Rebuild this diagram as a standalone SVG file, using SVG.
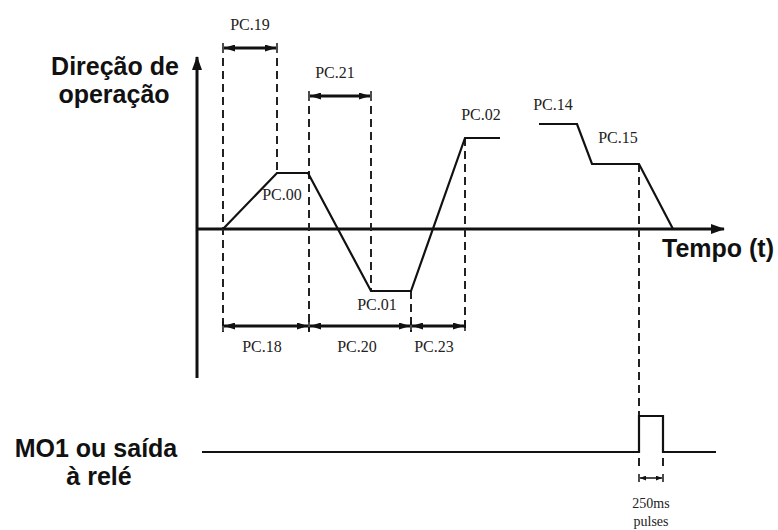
<svg xmlns="http://www.w3.org/2000/svg" width="778" height="530" viewBox="0 0 778 530">
<style>
.bg{fill:#fff}
.axis{stroke:#111;stroke-width:3;fill:none}
.wave{stroke:#111;stroke-width:2.2;fill:none;stroke-linejoin:miter}
.dash{stroke:#222;stroke-width:2;stroke-dasharray:8,5;fill:none}
.dim{stroke:#111;stroke-width:3;fill:none}
.tick{stroke:#111;stroke-width:1.5}
.lbl{font-family:"Liberation Serif","Times New Roman",serif;font-size:16px;fill:#222;text-anchor:middle}
.small{font-family:"Liberation Serif","Times New Roman",serif;font-size:14px;fill:#222;text-anchor:middle}
.big{font-family:"Liberation Sans",Arial,sans-serif;font-size:25px;font-weight:bold;fill:#111;text-anchor:middle}
</style>
<defs>
<marker id="ah" viewBox="0 0 11 7" refX="11" refY="3.5" markerWidth="11" markerHeight="7" markerUnits="userSpaceOnUse" orient="auto-start-reverse">
<path d="M0,0 L11,3.5 L0,7 Z" fill="#111"/>
</marker>
<marker id="ahs" viewBox="0 0 10 8" refX="10" refY="4" markerWidth="6" markerHeight="5" markerUnits="userSpaceOnUse" orient="auto-start-reverse">
<path d="M0,0 L10,4 L0,8 Z" fill="#111"/>
</marker>
<marker id="axh" viewBox="0 0 14 10" refX="13" refY="5" markerWidth="14" markerHeight="10" markerUnits="userSpaceOnUse" orient="auto">
<path d="M0,0 L14,5 L0,10 Z" fill="#111"/>
</marker>
</defs>
<rect class="bg" width="778" height="530"/>

<g id="connectors">
<line class="axis" x1="197" y1="378" x2="197" y2="57" marker-end="url(#axh)"/>
<line class="axis" x1="196" y1="229" x2="724" y2="229" marker-end="url(#axh)"/>
<line class="dash" x1="223" y1="58" x2="223" y2="332"/>
<line class="dash" x1="277" y1="58" x2="277" y2="173"/>
<line class="dash" x1="309" y1="106" x2="309" y2="332"/>
<line class="dash" x1="371" y1="106" x2="371" y2="291"/>
<line class="dash" x1="411" y1="291" x2="411" y2="332"/>
<line class="dash" x1="465" y1="138" x2="465" y2="332"/>
<line class="dash" x1="639" y1="164" x2="639" y2="416"/>
<line class="dash" x1="639" y1="458" x2="639" y2="468"/>
<line class="dash" x1="663" y1="458" x2="663" y2="468"/>
<line class="dim" x1="224" y1="48" x2="276" y2="48" marker-start="url(#ah)" marker-end="url(#ah)"/>
<line class="dim" x1="310" y1="96" x2="370" y2="96" marker-start="url(#ah)" marker-end="url(#ah)"/>
<line class="dim" x1="224" y1="326" x2="308" y2="326" marker-start="url(#ah)" marker-end="url(#ah)"/>
<line class="dim" x1="310" y1="326" x2="410" y2="326" marker-start="url(#ah)" marker-end="url(#ah)"/>
<line class="dim" x1="412" y1="326" x2="464" y2="326" marker-start="url(#ah)" marker-end="url(#ah)"/>
<line class="dim" style="stroke-width:1.5" x1="640" y1="478" x2="662" y2="478" marker-start="url(#ahs)" marker-end="url(#ahs)"/>
<line class="tick" x1="223" y1="43" x2="223" y2="53"/>
<line class="tick" x1="277" y1="43" x2="277" y2="53"/>
<line class="tick" x1="309" y1="91" x2="309" y2="101"/>
<line class="tick" x1="371" y1="91" x2="371" y2="101"/>
<line class="tick" x1="223" y1="321" x2="223" y2="331"/>
<line class="tick" x1="309" y1="321" x2="309" y2="331"/>
<line class="tick" x1="411" y1="321" x2="411" y2="331"/>
<line class="tick" x1="465" y1="321" x2="465" y2="331"/>
<line class="tick" x1="639" y1="474" x2="639" y2="482"/>
<line class="tick" x1="663" y1="474" x2="663" y2="482"/>
</g>

<g id="waveform">
<polyline class="wave" points="223,229 277,173 308,173 371,291 411,291 465,138 500,138"/>
</g>
<g id="stop-curve">
<polyline class="wave" points="539,124 577,124 592,164 639,164 673,229"/>
</g>
<g id="relay-signal">
<polyline class="wave" points="202,452 639,452 639,416 663,416 663,452 716,452"/>
</g>

<g id="labels">
<text class="lbl" x="250" y="30">PC.19</text>
<text class="lbl" x="335" y="78">PC.21</text>
<text class="lbl" x="282" y="200">PC.00</text>
<text class="lbl" x="481" y="120">PC.02</text>
<text class="lbl" x="553" y="110">PC.14</text>
<text class="lbl" x="618" y="143">PC.15</text>
<text class="lbl" x="377" y="310">PC.01</text>
<text class="lbl" x="262" y="352">PC.18</text>
<text class="lbl" x="357" y="352">PC.20</text>
<text class="lbl" x="434" y="352">PC.23</text>
<text class="small" x="651" y="508">250ms</text>
<text class="small" x="651" y="526">pulses</text>
</g>

<g id="axis-labels">
<text class="big" x="115" y="75">Direção de</text>
<text class="big" x="114" y="103">operação</text>
<text class="big" x="718" y="257">Tempo (t)</text>
<text class="big" x="96" y="457">MO1 ou saída</text>
<text class="big" x="99" y="485">à relé</text>
</g>
</svg>
